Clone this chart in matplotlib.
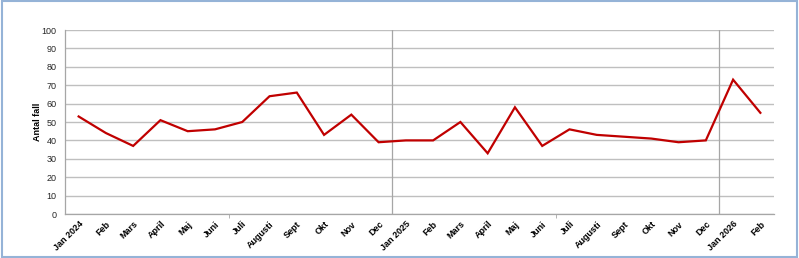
import matplotlib
matplotlib.use("Agg")
import matplotlib.pyplot as plt
from matplotlib.patches import Rectangle

months = ["Jan 2024", "Feb", "Mars", "April", "Maj", "Juni", "Juli", "Augusti", "Sept", "Okt", "Nov", "Dec",
          "Jan 2025", "Feb", "Mars", "April", "Maj", "Juni", "Juli", "Augusti", "Sept", "Okt", "Nov", "Dec",
          "Jan 2026", "Feb"]
values = [53, 44, 37, 51, 45, 46, 50, 64, 66, 43, 54, 39,
          40, 40, 50, 33, 58, 37, 46, 43, 42, 41, 39, 40,
          73, 55]
year_breaks = [11.5, 23.5]
minor_ticks = [5.5, 17.5]
yticks = list(range(0, 101, 10))

plt.rcParams['font.family'] = ['Liberation Sans', 'DejaVu Sans']

fig = plt.figure(figsize=(7.99, 2.58), dpi=100)
ax = fig.add_axes([65/799, 1-214/258, (774-65)/799, (214-30)/258])

x = list(range(len(values)))
ax.plot(x, values, color='#C00000', lw=1.6, solid_joinstyle='miter', zorder=3)

ax.set_xlim(-0.5, len(values)-0.5)
ax.set_ylim(0, 100)
ax.set_yticks(yticks)
ax.set_yticklabels([str(v) for v in yticks], fontsize=6.5, color='#262626')
ax.grid(axis='y', color='#BFBFBF', lw=1.0)
ax.set_axisbelow(True)
for xb in year_breaks:
    ax.axvline(xb, color='#A6A6A6', lw=0.9, zorder=1)

ax.set_xticks(x)
ax.set_xticklabels(months, rotation=45, ha='right', rotation_mode='anchor', fontsize=6.5, fontweight='bold')
ax.tick_params(axis='x', length=0, pad=4)
ax.tick_params(axis='y', length=0, pad=6)
ax.set_xticks(minor_ticks, minor=True)
ax.tick_params(axis='x', which='minor', length=3, color='#A6A6A6')

for s in ['top', 'right']:
    ax.spines[s].set_visible(False)
for s in ['left', 'bottom']:
    ax.spines[s].set_color('#A6A6A6')
    ax.spines[s].set_linewidth(0.9)

ax.set_ylabel('Antal fall', fontsize=6.5, fontweight='bold', labelpad=0)

fig.patches.append(Rectangle((0.002, 0.004), 0.996, 0.992, transform=fig.transFigure,
                             fill=False, edgecolor='#95B3D7', lw=1.5))

fig.savefig('out.png', dpi=100)
